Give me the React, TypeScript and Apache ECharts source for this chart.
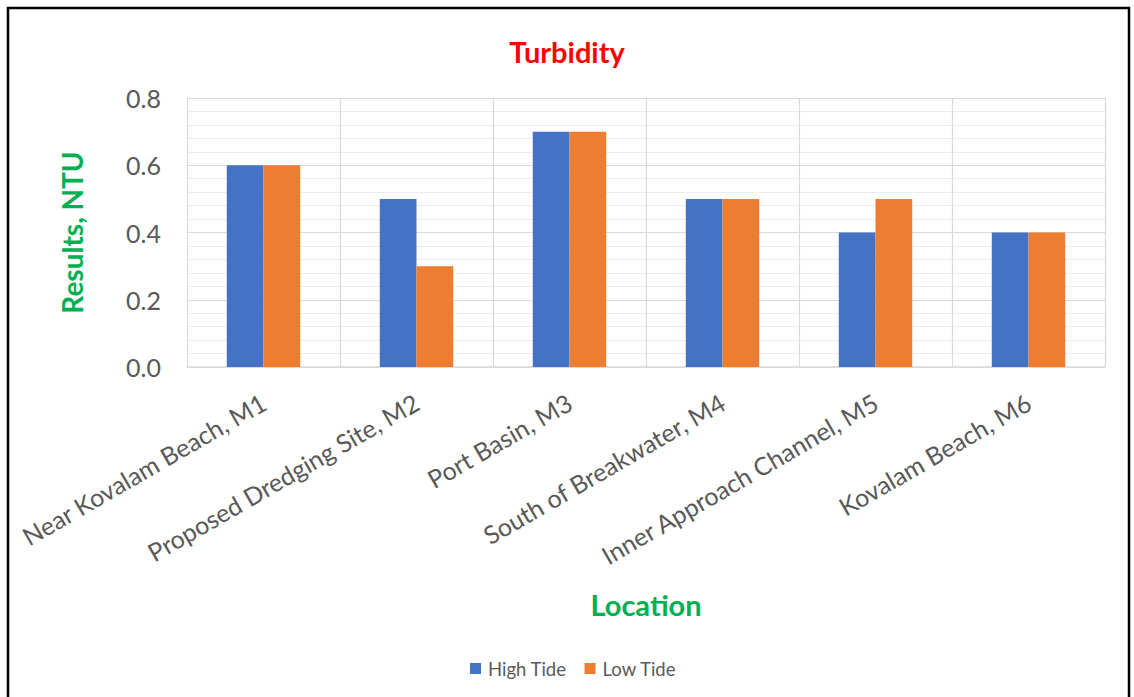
import React, { useEffect, useRef } from "react";
import * as echarts from "echarts";

const categories = [
  "Near Kovalam Beach, M1",
  "Proposed Dredging Site, M2",
  "Port Basin, M3",
  "South of Breakwater, M4",
  "Inner Approach Channel, M5",
  "Kovalam Beach, M6",
];
const highTide = [0.6, 0.5, 0.7, 0.5, 0.4, 0.4];
const lowTide = [0.6, 0.3, 0.7, 0.5, 0.5, 0.4];
const seriesNames = ["High Tide", "Low Tide"];

const FONT = "Lato, 'Open Sans', sans-serif";

export default function App() {
  const ref = useRef<HTMLDivElement>(null);
  useEffect(() => {
    if (!ref.current) return;
    const chart = echarts.init(ref.current, undefined, { renderer: "svg" });
    chart.setOption({
      animation: false,
      backgroundColor: "#ffffff",
      textStyle: { fontFamily: FONT },
      title: {
        text: "Turbidity",
        left: "center",
        top: 32,
        textStyle: { color: "#ff0000", fontSize: 29, fontWeight: "bold", fontFamily: FONT },
      },
      graphic: [
        {
          type: "rect",
          shape: { x: 8, y: 8, width: 1121, height: 720 },
          style: { fill: "none", stroke: "#000000", lineWidth: 2.5 },
          silent: true,
        },
      ],
      legend: {
        bottom: 14,
        left: 465,
        itemWidth: 11,
        itemHeight: 11,
        itemGap: 18,
        icon: "rect",
        textStyle: { color: "#595959", fontSize: 18.5, fontFamily: FONT, padding: [0, 0, 0, 2] },
        data: seriesNames,
      },
      grid: { left: 187, right: 29, top: 98, bottom: 330, containLabel: false },
      xAxis: {
        type: "category",
        data: categories,
        name: "Location",
        nameLocation: "middle",
        nameGap: 223,
        nameTextStyle: { color: "#00b050", fontSize: 29, fontWeight: "bold", fontFamily: FONT },
        axisLine: { show: true, lineStyle: { color: "#d9d9d9", width: 1.5 } },
        axisTick: { show: false },
        splitLine: { show: true, lineStyle: { color: "#d9d9d9", width: 1.2 } },
        axisLabel: {
          rotate: 30,
          interval: 0,
          margin: 33,
          color: "#595959",
          fontSize: 25,
          fontFamily: FONT,
        },
      },
      yAxis: {
        type: "value",
        min: 0,
        max: 0.8,
        interval: 0.2,
        name: "Results, NTU",
        nameLocation: "middle",
        nameGap: 101,
        nameRotate: 90,
        nameTextStyle: { color: "#00b050", fontSize: 28, fontWeight: "bold", fontFamily: FONT },
        axisLine: { show: false },
        axisTick: { show: false },
        axisLabel: {
          color: "#595959",
          fontSize: 25,
          margin: 26,
          fontFamily: FONT,
          formatter: (v: number) => v.toFixed(1),
        },
        splitLine: { show: true, lineStyle: { color: "#d9d9d9", width: 1.2 } },
        minorTick: { show: false, splitNumber: 5 },
        minorSplitLine: { show: true, lineStyle: { color: "#ededed", width: 1 } },
      },
      series: [
        {
          name: seriesNames[0],
          type: "bar",
          data: highTide,
          itemStyle: { color: "#4472c4" },
          barGap: "0%",
          barCategoryGap: "52%",
        },
        {
          name: seriesNames[1],
          type: "bar",
          data: lowTide,
          itemStyle: { color: "#ed7d31" },
          barGap: "0%",
          barCategoryGap: "52%",
        },
      ],
    });
    return () => chart.dispose();
  }, []);
  return (
    <div
      ref={ref}
      style={{ position: "fixed", left: 0, top: 0, width: 1134, height: 697 }}
    />
  );
}
